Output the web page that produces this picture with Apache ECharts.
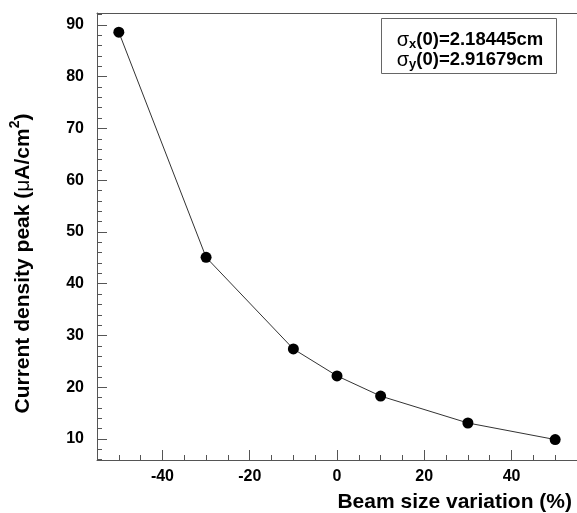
<!DOCTYPE html>
<html>
<head>
<meta charset="utf-8">
<script src="https://cdn.jsdelivr.net/npm/echarts@6/dist/echarts.min.js"></script>
<style>
  html, body { margin: 0; padding: 0; background: #fff; }
  #chart { width: 577px; height: 513px; }
</style>
</head>
<body>
<div id="chart"></div>
<script>
// Beam size variation (%) and the resulting current density peak (µA/cm²)
const beamVariation = [-50, -30, -10, 0, 10, 30, 50];
const densityPeak = [88.6, 45.1, 27.4, 22.2, 18.3, 13.1, 9.9];

// Axis ticks
const xMajorTicks = [-40, -20, 0, 20, 40];
const yMajorTicks = [10, 20, 30, 40, 50, 60, 70, 80, 90];
const xMinorStep = 5;
const yMinorStep = 2;

const xRange = [-55, 55];
const yRange = [5.95, 92.3];

function stepValues(lo, hi, step) {
  const out = [];
  for (let v = Math.ceil(lo / step) * step; v <= hi + 1e-9; v += step) out.push(v);
  return out;
}
const xMinorTicks = stepValues(xRange[0], xRange[1], xMinorStep);
const yMinorTicks = stepValues(yRange[0], yRange[1], yMinorStep);

const FONT = '"Liberation Sans", Arial, Helvetica, sans-serif';
const AXIS_COLOR = '#555';

const chart = echarts.init(document.getElementById('chart'), null, { renderer: 'canvas' });

const points = beamVariation.map((x, i) => [x, densityPeak[i]]);

const legendRich = {
  s: { fill: '#000', fontFamily: FONT, fontSize: 20, lineHeight: 22, verticalAlign: 'middle' },
  t: { fill: '#000', fontFamily: FONT, fontWeight: 'bold', fontSize: 18.5, lineHeight: 22, verticalAlign: 'middle' },
  sub: { fill: '#000', fontFamily: FONT, fontWeight: 'bold', fontSize: 13, lineHeight: 12, verticalAlign: 'bottom' }
};

chart.setOption({
  animation: false,
  backgroundColor: '#fff',
  grid: { left: 97, right: 0, top: 13, bottom: 52, containLabel: false },
  xAxis: [
    {
      type: 'value', position: 'bottom', min: xRange[0], max: xRange[1],
      axisLine: { show: true, onZero: false, lineStyle: { color: AXIS_COLOR, width: 1 } },
      axisTick: { show: true, inside: true, length: 10, customValues: xMajorTicks,
                  lineStyle: { color: AXIS_COLOR } },
      axisLabel: { show: true, customValues: xMajorTicks, margin: 9,
                   color: '#000', fontFamily: FONT, fontWeight: 'bold', fontSize: 16 },
      splitLine: { show: false },
      name: 'Beam size variation (%)',
      nameLocation: 'end',
      nameGap: -5,
      nameTextStyle: { color: '#000', fontFamily: FONT, fontWeight: 'bold', fontSize: 21,
                       align: 'right', verticalAlign: 'top', padding: [32, 0, 0, 0] }
    },
    {
      type: 'value', position: 'bottom', min: xRange[0], max: xRange[1],
      axisLine: { show: false, onZero: false },
      axisTick: { show: true, inside: true, length: 5, customValues: xMinorTicks,
                  lineStyle: { color: AXIS_COLOR } },
      axisLabel: { show: false },
      splitLine: { show: false }
    },
    {
      type: 'value', position: 'top', min: xRange[0], max: xRange[1],
      axisLine: { show: true, onZero: false, lineStyle: { color: AXIS_COLOR, width: 1 } },
      axisTick: { show: false },
      axisLabel: { show: false },
      splitLine: { show: false }
    }
  ],
  yAxis: [
    {
      type: 'value', position: 'left', min: yRange[0], max: yRange[1],
      axisLine: { show: true, onZero: false, lineStyle: { color: AXIS_COLOR, width: 1 } },
      axisTick: { show: true, inside: true, length: 10, customValues: yMajorTicks,
                  lineStyle: { color: AXIS_COLOR } },
      axisLabel: { show: true, customValues: yMajorTicks, margin: 13,
                   color: '#000', fontFamily: FONT, fontWeight: 'bold', fontSize: 16 },
      splitLine: { show: false },
      name: '{t|Current density peak (}{mu|μ}{t|A/cm}{sup|2}{t|)}',
      nameLocation: 'middle',
      nameGap: 63,
      nameTextStyle: {
        padding: [0, 54, 0, 0],
        rich: {
          t: { color: '#000', fontFamily: FONT, fontWeight: 'bold', fontSize: 21, lineHeight: 26, verticalAlign: 'bottom' },
          mu: { color: '#000', fontFamily: FONT, fontWeight: 'normal', fontSize: 21, lineHeight: 26, verticalAlign: 'bottom' },
          sup: { color: '#000', fontFamily: FONT, fontWeight: 'bold', fontSize: 14, lineHeight: 20, verticalAlign: 'top' }
        }
      }
    },
    {
      type: 'value', position: 'left', min: yRange[0], max: yRange[1],
      axisLine: { show: false, onZero: false },
      axisTick: { show: true, inside: true, length: 5, customValues: yMinorTicks,
                  lineStyle: { color: AXIS_COLOR } },
      axisLabel: { show: false },
      splitLine: { show: false }
    }
  ],
  series: [
    {
      type: 'line',
      xAxisIndex: 0,
      yAxisIndex: 0,
      data: points,
      symbol: 'circle',
      symbolSize: 11,
      itemStyle: { color: '#000' },
      lineStyle: { color: '#333', width: 1 },
      z: 5
    }
  ],
  graphic: [
    {
      type: 'group',
      left: 381,
      top: 18,
      children: [
        {
          type: 'rect',
          shape: { x: 0.5, y: 0.5, width: 175, height: 55 },
          style: { fill: '#fff', stroke: '#666', lineWidth: 1 }
        },
        {
          type: 'text',
          x: 89, y: 22,
          style: { text: '{s|σ}{sub|x}{t|(0)=2.18445cm}', align: 'center', verticalAlign: 'middle', rich: legendRich }
        },
        {
          type: 'text',
          x: 89, y: 42,
          style: { text: '{s|σ}{sub|y}{t|(0)=2.91679cm}', align: 'center', verticalAlign: 'middle', rich: legendRich }
        }
      ]
    }
  ]
});
</script>
</body>
</html>
